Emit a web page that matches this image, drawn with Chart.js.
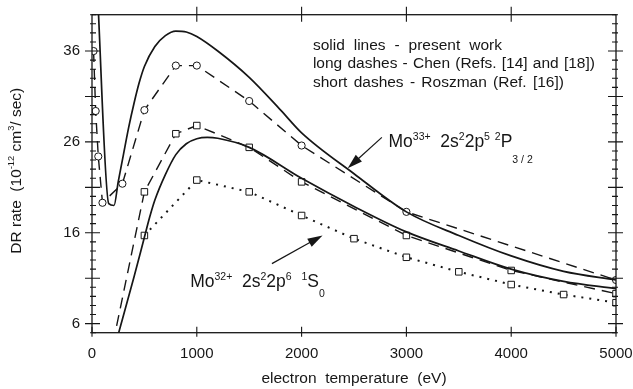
<!DOCTYPE html>
<html>
<head>
<meta charset="utf-8">
<title>DR rate vs electron temperature</title>
<script src="https://cdn.jsdelivr.net/npm/chart.js@4"></script>
<style>
  html, body { margin: 0; padding: 0; background: #fff; }
  #box { width: 633px; height: 389px; }
</style>
</head>
<body>
<div id="box"><canvas id="c" width="633" height="389"></canvas></div>
<script>
// electron temperature (eV) -> DR rate (10^-12 cm^3/sec)

// solid lines - present work
const presentMo33T    = [50, 160, 210, 250, 300, 350, 400, 450, 500, 600, 700, 800, 900, 1000, 1200, 1500, 1800, 2000, 2500, 3000, 3500, 4000, 4500, 5000];
const presentMo33Rate = [43.0, 19.2, 19.0, 21.6, 24.6, 27.6, 30.2, 32.5, 34.3, 36.5, 37.7, 38.2, 38.1, 37.6, 36.0, 33.1, 29.5, 27.0, 22.5, 18.3, 15.7, 13.45, 11.75, 10.8];
const presentMo32T    = [200, 250, 300, 400, 500, 550, 600, 700, 800, 900, 1000, 1100, 1200, 1500, 2000, 2500, 3000, 3500, 4000, 4500, 5000];
const presentMo32Rate = [2.7, 4.8, 6.9, 11.1, 15.5, 17.7, 19.6, 22.4, 24.6, 25.8, 26.35, 26.5, 26.4, 25.4, 22.0, 18.9, 16.1, 14.0, 12.0, 10.65, 9.85];

// long dashes - Chen
const chenMo33T    = [15, 35, 60, 100, 290, 500, 800, 1000, 1500, 2000, 3000, 5000];
const chenMo33Rate = [36.0, 29.4, 24.4, 19.3, 21.4, 29.5, 34.4, 34.4, 30.5, 25.6, 18.3, 10.8];
const chenMo32T    = [200, 500, 800, 1000, 1500, 2000, 3000, 4000, 5000];
const chenMo32Rate = [3.8, 20.5, 26.9, 27.8, 25.4, 21.6, 15.7, 11.85, 9.3];

// short dashes - Roszman
const roszmanT    = [500, 1000, 1500, 2000, 2500, 3000, 3500, 4000, 4500, 5000];
const roszmanRate = [15.7, 21.8, 20.5, 17.9, 15.35, 13.3, 11.7, 10.3, 9.2, 8.3];

// axes
const xTicks = [0, 1000, 2000, 3000, 4000, 5000];
const yLabelTicks = [6, 16, 26, 36];
const yMajorTicks = [6, 11, 16, 21, 26, 31, 36];

const FONT = '"Liberation Sans", Arial, Helvetica, sans-serif';
const INK = '#161616';

const pts = (xs, ys) => xs.map((t, i) => ({ x: t, y: ys[i] }));

// text with superscripts / subscripts: parts = [text, 'n'|'sup'|'sub', offset?]
function drawRich(ctx, x, y, parts, size, draw = true) {
  let cx = x;
  parts.forEach(([t, kind, off]) => {
    const s = kind === 'n' ? size : size * 0.6;
    let dy = 0;
    if (kind === 'sup') dy = -(off ?? size * 0.42);
    if (kind === 'sub') dy = off ?? size * 0.3;
    ctx.font = s + 'px ' + FONT;
    if (draw) ctx.fillText(t, cx, y + dy);
    cx += ctx.measureText(t).width;
  });
  return cx - x;
}

// one line spread out to a given width (wide word gaps like the original)
function drawSpread(ctx, text, x, y, width) {
  const words = text.split(' ');
  const w = words.reduce((s, wd) => s + ctx.measureText(wd).width, 0);
  const gap = (width - w) / (words.length - 1);
  let cx = x;
  words.forEach(wd => { ctx.fillText(wd, cx, y); cx += ctx.measureText(wd).width + gap; });
}

function arrow(ctx, x0, y0, x1, y1) {
  const a = Math.atan2(y1 - y0, x1 - x0), L = 15, H = 4.6;
  ctx.beginPath();
  ctx.moveTo(x0, y0);
  ctx.lineTo(x1 - L * 0.8 * Math.cos(a), y1 - L * 0.8 * Math.sin(a));
  ctx.stroke();
  ctx.beginPath();
  ctx.moveTo(x1, y1);
  ctx.lineTo(x1 - L * Math.cos(a) + H * Math.sin(a), y1 - L * Math.sin(a) - H * Math.cos(a));
  ctx.lineTo(x1 - L * Math.cos(a) - H * Math.sin(a), y1 - L * Math.sin(a) + H * Math.cos(a));
  ctx.closePath();
  ctx.fill();
}

// frame + tick marks on all four sides
const frameTicks = {
  id: 'frameTicks',
  afterDatasetsDraw(chart) {
    const { ctx, chartArea: a, scales: { x, y } } = chart;
    ctx.save();
    ctx.strokeStyle = INK;
    ctx.lineWidth = 1.3;
    ctx.strokeRect(a.left, a.top, a.right - a.left, a.bottom - a.top);
    ctx.lineWidth = 1.1;
    ctx.beginPath();
    xTicks.forEach(v => {
      const px = x.getPixelForValue(v);
      ctx.moveTo(px, a.bottom + 4); ctx.lineTo(px, a.bottom - 6);
      if (v > x.min && v < x.max) { ctx.moveTo(px, a.top - 8); ctx.lineTo(px, a.top + 7); }
    });
    for (let v = Math.ceil(y.min); v <= y.max; v++) {
      const py = y.getPixelForValue(v);
      if (yMajorTicks.includes(v)) {
        ctx.moveTo(a.left - 7, py); ctx.lineTo(a.left + 8, py);
        ctx.moveTo(a.right - 8, py); ctx.lineTo(a.right + 7, py);
      } else {
        ctx.moveTo(a.left - 2, py); ctx.lineTo(a.left + 4, py);
        ctx.moveTo(a.right - 4, py); ctx.lineTo(a.right + 2, py);
      }
    }
    ctx.stroke();
    ctx.restore();
  }
};

// y title, key text and the two labelled arrows
const notes = {
  id: 'notes',
  afterDraw(chart) {
    const { ctx, scales: { x, y } } = chart;
    ctx.save();
    ctx.fillStyle = INK;
    ctx.strokeStyle = INK;
    ctx.textBaseline = 'alphabetic';
    ctx.textAlign = 'left';

    // y axis title
    const yTitle = [['DR rate  (10', 'n'], ['-12', 'sup'], [' cm', 'n'], ['3', 'sup'], ['/ sec)', 'n']];
    const tw = drawRich(ctx, 0, 0, yTitle, 15.5, false);
    ctx.save();
    ctx.translate(20.5, (y.top + y.bottom) / 2 - 3);
    ctx.rotate(-Math.PI / 2);
    drawRich(ctx, -tw / 2, 0, yTitle, 15.5);
    ctx.restore();

    // key
    ctx.font = '15.5px ' + FONT;
    const kx = x.getPixelForValue(2108);
    drawSpread(ctx, 'solid lines - present work', kx, y.getPixelForValue(36.14), 189);
    drawSpread(ctx, 'long dashes - Chen (Refs. [14] and [18])', kx, y.getPixelForValue(34.12), 282);
    drawSpread(ctx, 'short dashes - Roszman (Ref. [16])', kx, y.getPixelForValue(32.03), 251);

    // Mo33+ label and arrow
    drawRich(ctx, x.getPixelForValue(2829), y.getPixelForValue(25.4),
      [['Mo', 'n'], ['33+', 'sup', 7], ['  2s', 'n'], ['2', 'sup', 7], ['2p', 'n'], ['5', 'sup', 7], [' ', 'n'],
       ['2', 'sup', 7], ['P', 'n'], ['3 / 2', 'sub', 16]], 17.5);
    ctx.lineWidth = 1.2;
    arrow(ctx, x.getPixelForValue(2766), y.getPixelForValue(26.5), x.getPixelForValue(2440), y.getPixelForValue(23.1));

    // Mo32+ label and arrow
    drawRich(ctx, x.getPixelForValue(937), y.getPixelForValue(10.0),
      [['Mo', 'n'], ['32+', 'sup', 7], ['  2s', 'n'], ['2', 'sup', 7], ['2p', 'n'], ['6', 'sup', 7], ['  ', 'n'],
       ['1', 'sup', 7], ['S', 'n'], ['0', 'sub', 9.5]], 17.5);
    arrow(ctx, x.getPixelForValue(1717), y.getPixelForValue(12.6), x.getPixelForValue(2200), y.getPixelForValue(15.7));
    ctx.restore();
  }
};

const solid = { borderColor: INK, borderWidth: 1.7, pointRadius: 0, cubicInterpolationMode: 'monotone' };
const marker = { pointBackgroundColor: '#fff', pointBorderColor: INK, pointBorderWidth: 1 };

new Chart(document.getElementById('c'), {
  type: 'line',
  data: {
    datasets: [
      { label: 'present Mo33+', data: pts(presentMo33T, presentMo33Rate), ...solid },
      { label: 'present Mo32+', data: pts(presentMo32T, presentMo32Rate), ...solid },
      { label: 'Chen Mo33+', data: pts(chenMo33T, chenMo33Rate), borderColor: INK, borderWidth: 1.4,
        borderDash: [11, 7], tension: 0, pointStyle: 'circle', pointRadius: 3.6, ...marker },
      { label: 'Chen Mo32+', data: pts(chenMo32T, chenMo32Rate), borderColor: INK, borderWidth: 1.4,
        borderDash: [11, 7], tension: 0, pointStyle: 'rect',
        pointRadius: c => (c.dataIndex === 0 ? 0 : 4.6), ...marker },
      { label: 'Roszman Mo32+', data: pts(roszmanT, roszmanRate), borderColor: INK, borderWidth: 2,
        borderDash: [2, 6], tension: 0, pointStyle: 'rect', pointRadius: 4.6, ...marker },
    ],
  },
  options: {
    responsive: false,
    animation: false,
    devicePixelRatio: 1,
    layout: { padding: { left: 0, right: 17, top: 14.7, bottom: 0 } },
    plugins: { legend: { display: false }, tooltip: { enabled: false } },
    scales: {
      x: {
        type: 'linear', min: 0, max: 5000,
        afterBuildTicks: s => { s.ticks = xTicks.map(v => ({ value: v })); },
        afterFit: s => { s.height = 56.3; },
        grid: { display: false, drawTicks: true, tickLength: 12 },
        border: { display: false },
        ticks: { color: INK, padding: 0, font: { size: 15, family: FONT }, maxRotation: 0,
                 callback: v => String(v) },
        title: { display: true, text: 'electron  temperature  (eV)', color: INK,
                 font: { size: 15.5, family: FONT }, padding: { top: 4, bottom: 1 } },
      },
      y: {
        type: 'linear', min: 5, max: 40,
        afterBuildTicks: s => { s.ticks = yLabelTicks.map(v => ({ value: v })); },
        afterFit: s => { s.width = 92; },
        grid: { display: false, drawTicks: true, tickLength: 12 },
        border: { display: false },
        ticks: { color: INK, padding: 0, font: { size: 15, family: FONT } },
      },
    },
  },
  plugins: [frameTicks, notes],
});
</script>
</body>
</html>
